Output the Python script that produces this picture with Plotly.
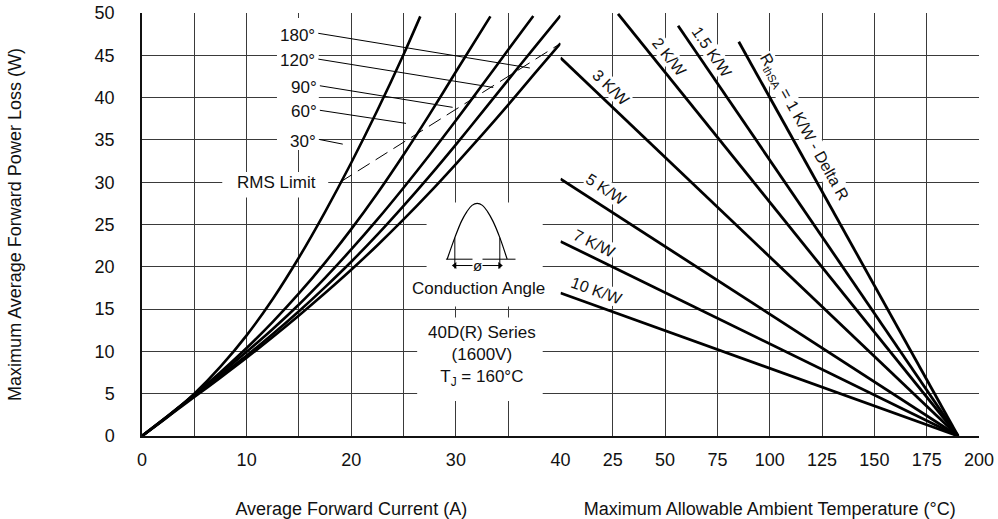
import plotly.graph_objects as go

FONT = "Liberation Sans, Arial, Helvetica, sans-serif"
INK = "#111111"
GRID = "#3a3a3a"

# ---------------------------------------------------------------------------
# Left panel: maximum average forward power loss vs. average forward current
# ---------------------------------------------------------------------------
conduction_angles = ["180°", "120°", "90°", "60°", "30°"]

current_30 = [0, 2.5, 5, 7.5, 10, 12.5, 15, 17.5, 20, 22.5, 25, 26.6]
loss_30 = [0, 2.3, 5.0, 8.2, 11.9, 16.2, 21.1, 26.5, 32.3, 38.5, 45.1, 49.6]

current_60 = [0, 2.5, 5, 7.5, 10, 12.5, 15, 17.5, 20, 22.5, 25, 27.5, 30, 33.3]
loss_60 = [0, 2.4, 4.9, 7.55, 10.4, 13.5, 16.85, 20.5, 24.45, 28.7, 33.25, 38.05, 43.05, 49.6]

current_90 = [0, 2.5, 5, 7.5, 10, 12.5, 15, 17.5, 20, 22.5, 25, 27.5, 30, 32.5, 35, 37.4]
loss_90 = [0, 2.4, 4.85, 7.35, 9.95, 12.65, 15.55, 18.7, 22.05, 25.6, 29.35, 33.25, 37.3, 41.45, 45.65, 49.65]

current_120 = [0, 2.5, 5, 7.5, 10, 12.5, 15, 17.5, 20, 22.5, 25, 27.5, 30, 32.5, 35, 37.5, 40]
loss_120 = [0, 2.4, 4.75, 7.1, 9.5, 12.05, 14.75, 17.6, 20.6, 23.8, 27.2, 30.75, 34.45, 38.25, 42.1, 45.9, 49.7]

current_180 = [0, 2.5, 5, 7.5, 10, 12.5, 15, 17.5, 20, 22.5, 25, 27.5, 30, 32.5, 35, 37.5, 40]
loss_180 = [0, 2.3, 4.6, 6.9, 9.25, 11.7, 14.25, 16.9, 19.65, 22.55, 25.6, 28.8, 32.15, 35.6, 39.15, 42.8, 46.4]

# RMS current limit (dashed)
rms_current = [18.93, 40.0]
rms_loss = [30.0, 46.4]

# Leader lines from the angle labels to their curves
leader_start_current = [16.85, 16.85, 17.0, 17.0, 16.95]
leader_start_loss = [47.6, 44.55, 41.4, 38.5, 35.05]
leader_end_current = [37.07, 33.57, 29.69, 25.23, 19.19]
leader_end_loss = [43.5, 41.2, 38.85, 36.95, 34.5]

# Conduction-angle pictogram (half sine pulse)
pulse_current = [29.17, 29.9, 30.54, 31.04, 31.54, 32.04, 32.54, 33.04, 33.54, 34.2, 34.9]
pulse_loss = [20.9, 23.45, 25.4, 26.5, 27.26, 27.5, 27.26, 26.5, 25.4, 23.45, 20.9]
pulse_base_current = [29.05, 35.7]
pulse_base_loss = [20.9, 20.9]
pulse_edge_current = [29.9, 34.2]
pulse_edge_loss = [19.8, 23.45]
pulse_span_loss = 20.15

# ---------------------------------------------------------------------------
# Right panel: power loss vs. maximum allowable ambient temperature
# ---------------------------------------------------------------------------
rth_labels = ["R<sub>thSA</sub> = 1 K/W - Delta R", "1.5 K/W", "2 K/W",
              "3 K/W", "5 K/W", "7 K/W", "10 K/W"]
rth_start_temp = [85.2, 56.2, 27.5, 0, 0, 0, 0]
rth_start_loss = [46.6, 48.5, 49.9, 44.7, 30.4, 23.0, 16.9]
zero_loss_temp = 190

rth_label_temp = [115.9, 72.5, 51.7, 24.1, 21.8, 16.2, 17.0]
rth_label_loss = [36.55, 45.35, 44.8, 41.2, 29.15, 22.7, 17.15]
rth_label_angle = [60.9, 55.7, 51.1, 43.5, 32.9, 26.0, 19.75]

current_ticks = [0, 10, 20, 30, 40]
temp_ticks = [25, 50, 75, 100, 125, 150, 175, 200]
loss_ticks = list(range(0, 51, 5))

fig = go.Figure()

# White panels that clear the grid behind the text blocks
blank_boxes = [
    (12.9, 16.9, 33.8, 49.4),
    (7.67, 17.8, 28.2, 31.2),
    (27.2, 38.3, 15.3, 27.6),
    (26.3, 38.3, 4.15, 14.0),
]
for x0, x1, y0, y1 in blank_boxes:
    fig.add_shape(type="rect", xref="x", yref="y", x0=x0, x1=x1, y0=y0, y1=y1,
                  fillcolor="white", line=dict(width=0), layer="between")

curves = [
    (current_30, loss_30), (current_60, loss_60), (current_90, loss_90),
    (current_120, loss_120), (current_180, loss_180),
]
for cx, cy in curves:
    fig.add_trace(go.Scatter(x=cx, y=cy, mode="lines", xaxis="x", yaxis="y",
                             line=dict(color="black", width=2.6, shape="spline", smoothing=0.8),
                             hoverinfo="skip"))

fig.add_trace(go.Scatter(x=rms_current, y=rms_loss, mode="lines", xaxis="x", yaxis="y",
                         line=dict(color="black", width=1, dash="14px,7px"), hoverinfo="skip"))

for i in range(len(conduction_angles)):
    fig.add_trace(go.Scatter(x=[leader_start_current[i], leader_end_current[i]],
                             y=[leader_start_loss[i], leader_end_loss[i]],
                             mode="lines", xaxis="x", yaxis="y",
                             line=dict(color="black", width=1), hoverinfo="skip"))
    fig.add_annotation(x=leader_start_current[i] - 0.1, y=leader_start_loss[i] - 0.2,
                       xref="x", yref="y", text=conduction_angles[i], showarrow=False,
                       xanchor="right", yanchor="middle",
                       font=dict(family=FONT, size=17, color=INK))

fig.add_annotation(x=16.85, y=30.0, xref="x", yref="y", text="RMS Limit", showarrow=False,
                   xanchor="right", yanchor="middle", font=dict(family=FONT, size=17, color=INK))

# Pictogram
fig.add_trace(go.Scatter(x=pulse_current, y=pulse_loss, mode="lines", xaxis="x", yaxis="y",
                         line=dict(color="black", width=1.2, shape="spline"), hoverinfo="skip"))
fig.add_trace(go.Scatter(x=pulse_base_current, y=pulse_base_loss, mode="lines", xaxis="x", yaxis="y",
                         line=dict(color="black", width=1), hoverinfo="skip"))
for xe in pulse_edge_current:
    fig.add_trace(go.Scatter(x=[xe, xe], y=pulse_edge_loss, mode="lines", xaxis="x", yaxis="y",
                             line=dict(color="black", width=1), hoverinfo="skip"))
fig.add_trace(go.Scatter(x=pulse_edge_current, y=[pulse_span_loss] * 2, mode="lines+markers",
                         xaxis="x", yaxis="y", line=dict(color="black", width=1),
                         marker=dict(symbol=["triangle-left", "triangle-right"], size=6, color="black"),
                         hoverinfo="skip"))
fig.add_annotation(x=32.05, y=pulse_span_loss, xref="x", yref="y", text="ø", showarrow=False,
                   bgcolor="white", borderpad=0, font=dict(family=FONT, size=15, color=INK))
fig.add_annotation(x=32.2, y=17.4, xref="x", yref="y", text="Conduction Angle", showarrow=False,
                   font=dict(family=FONT, size=17, color=INK))
fig.add_annotation(x=32.5, y=9.5, xref="x", yref="y",
                   text="40D(R) Series<br>(1600V)<br>T<sub>J</sub> = 160°C", showarrow=False,
                   font=dict(family=FONT, size=17, color=INK))

# Right panel thermal-resistance lines
for i in range(len(rth_labels)):
    fig.add_trace(go.Scatter(x=[rth_start_temp[i], zero_loss_temp], y=[rth_start_loss[i], 0],
                             mode="lines", xaxis="x2", yaxis="y",
                             line=dict(color="black", width=2.8), hoverinfo="skip"))
    fig.add_annotation(x=rth_label_temp[i], y=rth_label_loss[i], xref="x2", yref="y",
                       text=rth_labels[i], showarrow=False, textangle=rth_label_angle[i],
                       bgcolor="white", borderpad=0,
                       font=dict(family=FONT, size=16, color=INK))

axis_common = dict(showgrid=True, gridcolor=GRID, gridwidth=1, zeroline=False,
                   showline=True, linecolor=INK, linewidth=1.5, ticks="",
                   tickfont=dict(family=FONT, size=18, color=INK), fixedrange=True,
                   automargin=False)
title_font = dict(family=FONT, size=18, color=INK)

fig.update_layout(
    template="none",
    width=998, height=519,
    margin=dict(l=142, r=19, t=13, b=83, autoexpand=False),
    paper_bgcolor="white", plot_bgcolor="white",
    showlegend=False,
    xaxis=dict(domain=[0, 0.5], range=[0, 40], tickmode="array", tickvals=current_ticks,
               minor=dict(dtick=5, tick0=0, showgrid=True, gridcolor=GRID, gridwidth=1, ticks=""),
               anchor="y", ticklabelstandoff=7,
               title=dict(text="Average Forward Current (A)", standoff=33, font=title_font),
               **axis_common),
    xaxis2=dict(domain=[0.5, 1], range=[0, 200], tickmode="array", tickvals=temp_ticks,
                ticktext=[str(t) for t in temp_ticks], anchor="y", ticklabelstandoff=7,
                title=dict(text="Maximum Allowable Ambient Temperature (°C)", standoff=33,
                           font=title_font),
                **axis_common),
    yaxis=dict(domain=[0, 1], range=[0, 50], tickmode="array", tickvals=loss_ticks,
               anchor="x", ticklabelstandoff=22,
               title=dict(text="Maximum Average Forward Power Loss (W)", standoff=68,
                          font=title_font),
               **axis_common),
)

fig.write_html("out.html")
